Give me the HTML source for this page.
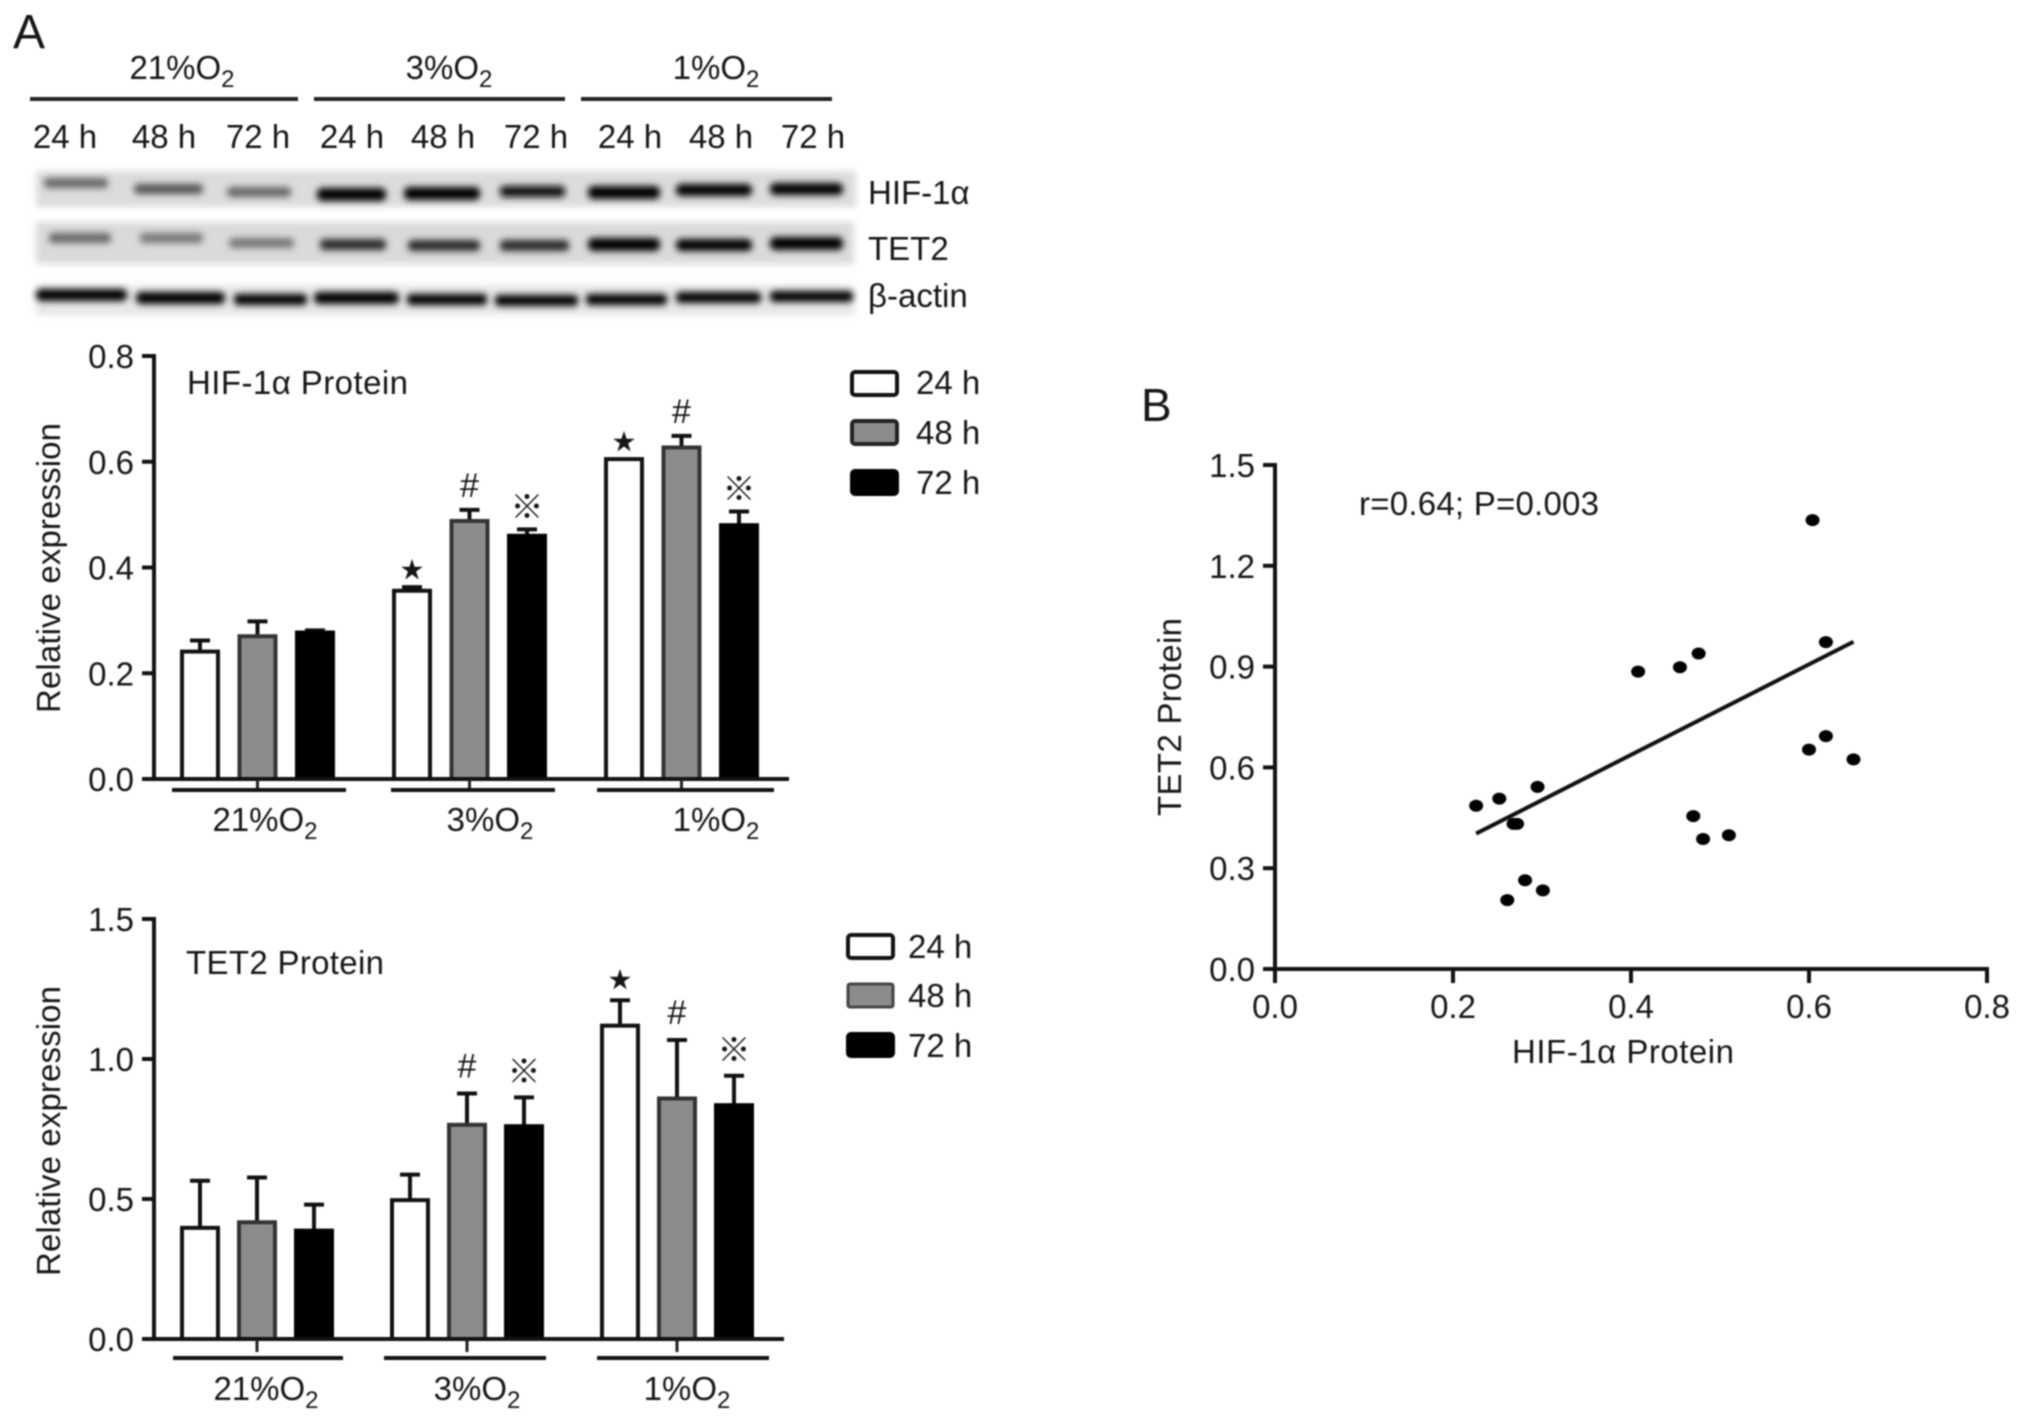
<!DOCTYPE html>
<html lang="en">
<head>
<meta charset="utf-8">
<title>HIF-1α and TET2 protein expression</title>
<style>
html,body{margin:0;padding:0;background:#fff;width:2032px;height:1420px;overflow:hidden}
svg{display:block;filter:blur(.7px)}
text{font-family:"Liberation Sans","Noto Sans CJK JP",sans-serif;font-size:33px;fill:#161616}
.sub{font-size:24px}
.blot{filter:url(#soft)}
.band{filter:url(#bandblur)}
</style>
</head>
<body>
<svg id="fig" xmlns="http://www.w3.org/2000/svg" width="2032" height="1420" viewBox="0 0 2032 1420">
<defs>
<filter id="soft" x="-5%" y="-30%" width="110%" height="160%"><feGaussianBlur stdDeviation="3.5"/></filter>
<filter id="bandblur" x="-20%" y="-120%" width="140%" height="340%"><feGaussianBlur stdDeviation="3.4"/></filter>
</defs>
<rect width="2032" height="1420" fill="#fff"/>
<text x="13" y="48" style="font-size:48px">A</text>
<text x="1141" y="421" style="font-size:46px">B</text>

<g>
<text x="182" y="79" text-anchor="middle">21%O<tspan class="sub" dy="8">2</tspan></text>
<text x="449" y="79" text-anchor="middle">3%O<tspan class="sub" dy="8">2</tspan></text>
<text x="716" y="79" text-anchor="middle">1%O<tspan class="sub" dy="8">2</tspan></text>
<rect x="30" y="97" width="268" height="4" fill="#222"/>
<rect x="314" y="97" width="251" height="4" fill="#222"/>
<rect x="581" y="97" width="251" height="4" fill="#222"/>
<text x="65" y="148" text-anchor="middle">24 h</text>
<text x="164" y="148" text-anchor="middle">48 h</text>
<text x="258" y="148" text-anchor="middle">72 h</text>
<text x="352" y="148" text-anchor="middle">24 h</text>
<text x="443" y="148" text-anchor="middle">48 h</text>
<text x="536" y="148" text-anchor="middle">72 h</text>
<text x="630" y="148" text-anchor="middle">24 h</text>
<text x="721" y="148" text-anchor="middle">48 h</text>
<text x="813" y="148" text-anchor="middle">72 h</text>
</g>

<g>
<rect class="blot" x="36" y="171" width="820" height="36" fill="#dcdcdc"/>
<g class="band">
<rect x="44" y="178" width="64" height="10" rx="4" fill="#666"/>
<rect x="134" y="184" width="69" height="10" rx="4" fill="#555"/>
<rect x="227" y="187" width="64" height="10" rx="4" fill="#666"/>
<rect x="317" y="188" width="69" height="13" rx="5" fill="#000"/>
<rect x="404" y="187" width="76" height="13" rx="5" fill="#000"/>
<rect x="500" y="186" width="65" height="11" rx="4" fill="#0a0a0a"/>
<rect x="588" y="186" width="72" height="13" rx="5" fill="#000"/>
<rect x="676" y="184" width="76" height="12" rx="5" fill="#000"/>
<rect x="770" y="183" width="73" height="12" rx="5" fill="#000"/>
</g>
</g>
<g>
<rect class="blot" x="36" y="222" width="818" height="42" fill="#dadada"/>
<g class="band">
<rect x="49" y="233" width="62" height="10" rx="4" fill="#666"/>
<rect x="140" y="233" width="63" height="10" rx="4" fill="#777"/>
<rect x="229" y="238" width="65" height="10" rx="4" fill="#777"/>
<rect x="320" y="239" width="66" height="11" rx="4" fill="#2a2a2a"/>
<rect x="408" y="240" width="72" height="11" rx="4" fill="#2a2a2a"/>
<rect x="500" y="240" width="69" height="11" rx="4" fill="#2a2a2a"/>
<rect x="588" y="238" width="72" height="13" rx="5" fill="#000"/>
<rect x="676" y="239" width="76" height="12" rx="5" fill="#000"/>
<rect x="770" y="237" width="73" height="13" rx="5" fill="#000"/>
</g>
</g>
<g>
<rect class="blot" x="36" y="285" width="818" height="30" fill="#e6e6e6"/>
<g class="band">
<rect x="36" y="289" width="91" height="12" rx="5" fill="#000"/>
<rect x="136" y="292" width="89" height="12" rx="5" fill="#000"/>
<rect x="234" y="294" width="73" height="11" rx="4" fill="#000"/>
<rect x="314" y="292" width="85" height="12" rx="5" fill="#000"/>
<rect x="407" y="294" width="80" height="11" rx="4" fill="#000"/>
<rect x="495" y="295" width="83" height="11" rx="4" fill="#000"/>
<rect x="586" y="294" width="81" height="11" rx="4" fill="#000"/>
<rect x="676" y="292" width="85" height="11" rx="4" fill="#000"/>
<rect x="770" y="291" width="83" height="11" rx="4" fill="#000"/>
</g>
</g>
<text x="873" y="204" transform="translate(-5,0)">HIF-1α</text>
<text x="868" y="260">TET2</text>
<text x="868" y="307">β-actin</text>

<g>
<rect x="852" y="372" width="45" height="23" rx="3" fill="#fff" stroke="#111" stroke-width="4"/>
<text x="916" y="394">24 h</text>
<rect x="852" y="421" width="45" height="23" rx="3" fill="#8c8c8c" stroke="#222" stroke-width="4"/>
<text x="916" y="444">48 h</text>
<rect x="852" y="471" width="45" height="23" rx="3" fill="#000" stroke="#000" stroke-width="4"/>
<text x="916" y="494">72 h</text>
</g>
<g>
<rect x="848" y="935" width="45" height="23" rx="3" fill="#fff" stroke="#111" stroke-width="4"/>
<text x="908" y="958">24 h</text>
<rect x="848" y="984" width="45" height="23" rx="2" fill="#8c8c8c" stroke="#444" stroke-width="3"/>
<text x="908" y="1007">48 h</text>
<rect x="848" y="1034" width="45" height="22" rx="3" fill="#000" stroke="#000" stroke-width="4"/>
<text x="908" y="1057">72 h</text>
</g>
<text x="187" y="394" textLength="221">HIF-1α Protein</text>
<text x="186" y="974" textLength="198">TET2 Protein</text>
<text x="1359" y="515" textLength="240">r=0.64; P=0.003</text>
<text x="1623" y="1063" text-anchor="middle" textLength="222">HIF-1α Protein</text>
<text transform="translate(1181,717) rotate(-90)" text-anchor="middle" textLength="198">TET2 Protein</text>
<g id="charts"></g>
</svg>

<script>
// ---- HIF-1a bar chart data ----
const conditions = ['21%O', '3%O', '1%O'];
const timepoints = ['24 h', '48 h', '72 h'];
const hifTicks = [0.0, 0.2, 0.4, 0.6, 0.8];
const hifMean24 = [0.241, 0.356, 0.605];
const hifMean48 = [0.27, 0.488, 0.627];
const hifMean72 = [0.277, 0.46, 0.48];
const hifUpper24 = [0.262, 0.363, 0.605];
const hifUpper48 = [0.298, 0.509, 0.649];
const hifUpper72 = [0.281, 0.472, 0.506];
const hifMarks24 = ['', '★', '★'];
const hifMarks48 = ['', '#', '#'];
const hifMarks72 = ['', '※', '※'];

// ---- TET2 bar chart data ----
const tetTicks = [0.0, 0.5, 1.0, 1.5];
const tetMean24 = [0.397, 0.496, 1.119];
const tetMean48 = [0.417, 0.765, 0.859];
const tetMean72 = [0.387, 0.76, 0.835];
const tetUpper24 = [0.565, 0.587, 1.21];
const tetUpper48 = [0.577, 0.877, 1.068];
const tetUpper72 = [0.48, 0.863, 0.94];
const tetMarks24 = ['', '', '★'];
const tetMarks48 = ['', '#', '#'];
const tetMarks72 = ['', '※', '※'];

// ---- Scatter data ----
const scatterXTicks = [0.0, 0.2, 0.4, 0.6, 0.8];
const scatterYTicks = [0.0, 0.3, 0.6, 0.9, 1.2, 1.5];
const hifValues = [0.226, 0.252, 0.295, 0.268, 0.272, 0.281, 0.261, 0.301, 0.408, 0.455, 0.476, 0.470, 0.481, 0.510, 0.604, 0.619, 0.600, 0.619, 0.650];
const tetValues = [0.486, 0.507, 0.542, 0.432, 0.432, 0.264, 0.205, 0.234, 0.885, 0.898, 0.939, 0.455, 0.387, 0.398, 1.336, 0.973, 0.653, 0.693, 0.624];
const fitX = [0.226, 0.650];
const fitY = [0.403, 0.974];

const NS = 'http://www.w3.org/2000/svg';
const root = document.getElementById('charts');
function mk(tag, attrs, parent) {
  const el = document.createElementNS(NS, tag);
  for (const k in attrs) el.setAttribute(k, attrs[k]);
  (parent || root).appendChild(el);
  return el;
}

function drawBars(cfg) {
  const g = mk('g', {});
  
  
  const yScale = v => cfg.y0 - (v / cfg.yMax) * (cfg.y0 - cfg.yTop);
  const groupX = i => cfg.gx0 + i * cfg.gStep;
  const barX = (i, s) => groupX(i) + (s - 1) * cfg.bStep;

  // y axis
  const yAxis = mk('line', {x1: cfg.axisX, x2: cfg.axisX, y1: yScale(cfg.yMax) - 2, y2: cfg.y0, stroke: '#111', 'stroke-width': 4}, g);
  
  
  cfg.ticks.forEach(t => {
    const tick = mk('line', {x1: cfg.axisX - 12, x2: cfg.axisX, y1: yScale(t), y2: yScale(t), stroke: '#111', 'stroke-width': 4}, g);
    
    
    const lab = mk('text', {x: cfg.axisX - 20, y: yScale(t) + 12, 'text-anchor': 'end'}, g);
    
    
    lab.textContent = t.toFixed(1);
  });
  const yTitle = mk('text', {transform: 'translate(60,' + cfg.yTitleY + ') rotate(-90)', 'text-anchor': 'middle', textLength: 290}, g);
  
  
  yTitle.textContent = 'Relative expression';

  const fills = ['#fff', '#8c8c8c', '#000'];
  const strokes = ['#111', '#333', '#000'];
  cfg.means.forEach((series, s) => {
    series.forEach((v, i) => {
      const cx = barX(i, s);
      const up = cfg.uppers[s][i];
      if (up > v) {
        const stem = mk('line', {x1: cx, x2: cx, y1: yScale(v), y2: yScale(up), stroke: '#111', 'stroke-width': 4}, g);
        
        
        const cap = mk('line', {x1: cx - 10, x2: cx + 10, y1: yScale(up), y2: yScale(up), stroke: '#111', 'stroke-width': 4}, g);
        
        
      }
      const bar = mk('rect', {x: cx - 18, y: yScale(v), width: 36, height: yScale(0) - yScale(v), fill: fills[s], stroke: strokes[s], 'stroke-width': 4}, g);
      
      
      const m = cfg.marks[s][i];
      if (m) {
        const size = m === '★' ? 23 : m === '※' ? 33 : 34;
        const gap = (m === '★' ? 18 : m === '※' ? 23 : 25) - cfg.markShift;
        const sym = mk('text', {x: cx, y: yScale(up) - gap + size * 0.36, 'text-anchor': 'middle', style: 'font-size:' + size + 'px'}, g);
        
        
        sym.textContent = m;
      }
    });
  });

  // baseline
  const xAxis = mk('line', {x1: cfg.axisX - 12, x2: cfg.xEnd, y1: cfg.y0, y2: cfg.y0, stroke: '#111', 'stroke-width': 4}, g);
  
  

  conditions.forEach((c, i) => {
    const tick = mk('line', {x1: groupX(i), x2: groupX(i), y1: cfg.y0, y2: cfg.bracketY - (cfg.tickGap || 0), stroke: '#222', 'stroke-width': 3}, g);
    
    
    const br = mk('line', {x1: cfg.bracketX[i][0], x2: cfg.bracketX[i][1], y1: cfg.bracketY, y2: cfg.bracketY, stroke: '#111', 'stroke-width': 4}, g);
    
    
    const lab = mk('text', {x: cfg.labelX[i], y: cfg.labelY, 'text-anchor': 'middle'}, g);
    
    
    lab.textContent = c;
    const sub = mk('tspan', {class: 'sub', dy: 8}, lab);
    sub.textContent = '2';
  });
}

drawBars({
  name: 'hif-bar-chart', y0: 779, yTop: 356, yMax: 0.8, axisX: 154, xEnd: 789,
  gx0: 257.5, gStep: 212, bStep: 57.5, ticks: hifTicks, yTitleY: 568, markShift: 0,
  means: [hifMean24, hifMean48, hifMean72], uppers: [hifUpper24, hifUpper48, hifUpper72],
  marks: [hifMarks24, hifMarks48, hifMarks72],
  bracketY: 790, bracketX: [[172, 346], [391, 555], [597, 774]],
  labelX: [265, 490, 716], labelY: 831
});
drawBars({
  name: 'tet2-bar-chart', y0: 1339, yTop: 919, yMax: 1.5, axisX: 154, xEnd: 784,
  gx0: 257, gStep: 210, bStep: 57, ticks: tetTicks, yTitleY: 1131, markShift: -3,
  means: [tetMean24, tetMean48, tetMean72], uppers: [tetUpper24, tetUpper48, tetUpper72],
  marks: [tetMarks24, tetMarks48, tetMarks72],
  bracketY: 1358, tickGap: 6, bracketX: [[173, 343], [384, 546], [597, 769]],
  labelX: [266, 477, 687], labelY: 1400
});

// ---- Scatter ----
(function () {
  const g = mk('g', {});
  
  
  const x0 = 1275, x1 = 1987, y0 = 969, y1 = 465;
  const xS = v => x0 + (v / 0.8) * (x1 - x0);
  const yS = v => y0 - (v / 1.5) * (y0 - y1);
  const ax = mk('line', {x1: x0 - 12, x2: x1 + 2, y1: y0, y2: y0, stroke: '#111', 'stroke-width': 4}, g);
  
  
  const ay = mk('line', {x1: x0, x2: x0, y1: y1 - 2, y2: y0 + 14, stroke: '#111', 'stroke-width': 4}, g);
  
  
  scatterXTicks.forEach(t => {
    const tick = mk('line', {x1: xS(t), x2: xS(t), y1: y0, y2: y0 + 14, stroke: '#111', 'stroke-width': 4}, g);
    
    
    const lab = mk('text', {x: xS(t), y: y0 + 49, 'text-anchor': 'middle'}, g);
    
    
    lab.textContent = t.toFixed(1);
  });
  scatterYTicks.forEach(t => {
    const tick = mk('line', {x1: x0 - 12, x2: x0, y1: yS(t), y2: yS(t), stroke: '#111', 'stroke-width': 4}, g);
    
    
    const lab = mk('text', {x: x0 - 20, y: yS(t) + 12, 'text-anchor': 'end'}, g);
    
    
    lab.textContent = t.toFixed(1);
  });
  const fit = mk('line', {x1: xS(fitX[0]), y1: yS(fitY[0]), x2: xS(fitX[1]), y2: yS(fitY[1]), stroke: '#111', 'stroke-width': 4}, g);
  
  
  hifValues.forEach((v, i) => {
    const p = mk('ellipse', {cx: xS(v), cy: yS(tetValues[i]), rx: 7, ry: 6, fill: '#000'}, g);
    
    
  });
})();
</script>
</body>
</html>
